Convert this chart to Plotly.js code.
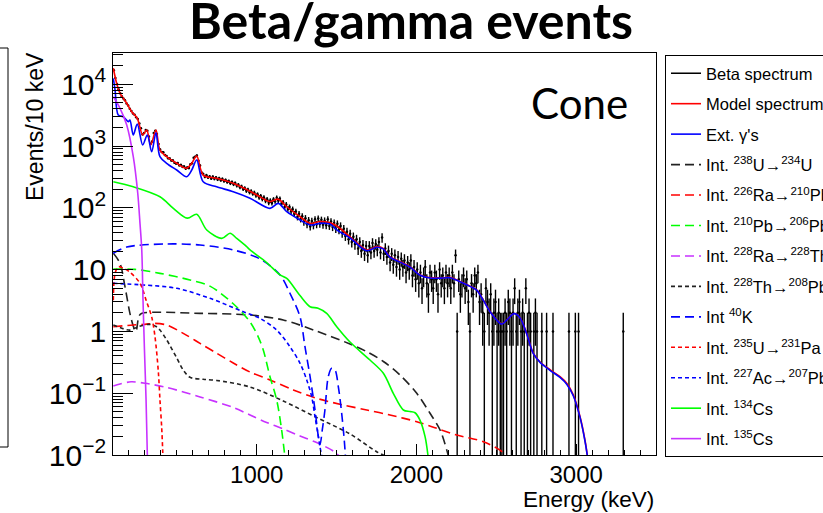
<!DOCTYPE html>
<html>
<head>
<meta charset="utf-8">
<script src="https://cdn.plot.ly/plotly-3.0.1.min.js"></script>
<style>
html,body{margin:0;padding:0;background:#ffffff;}
#chart{width:823px;height:513px;}
</style>
</head>
<body>
<div id="chart"></div>
<script>
// ---------------- data ----------------
const binStart = 100;   // keV, left edge of first bin
const binWidth = 10;    // keV per bin
// Beta spectrum: events per 10 keV bin (null = empty bin)
const betaCounts = [
 16800,12650,10080,8290,7130,6410,5870,5480,4890,4530,
 4010,3700,3360,3210,2920,2740,2310,1930,1540,1630,
 1810,1760,1420,1090,1180,1630,1770,1570,1080,880,
 800,790,718,690,633,628,583,585,538,520,
 529,488,492,460,468,431,450,441,505,528,
 645,672,700,575,482,368,352,318,336,309,
 322,298,317,295,309,288,301,280,293,271,
 281,262,270,249,261,240,251,229,236,215,
 222,201,208,188,197,178,186,169,176,158,
 165,147,155,139,147,130,138,121,131,120,
 137,128,146,131,140,117,123,104,113,96,
 103,88,95,80,87,71,80,66,73,59,
 68,54,63,50,61,52,65,54,67,55,
 64,53,62,52,65,51,60,49,57,46,
 55,44,51,39,46,35,41,31,38,28,
 34,26,31,22,28,20,25,18,24,17,
 24,19,27,20,26,21,28,19,33,18,
 22,16,20,13,18,12,17,11,16,10,
 15,11,14,9,13,10,14,8,11,7,
 10,6,9,5,8,11,6,4,9,7,
 5,9,7,4,10,6,8,5,9,6,
 8,5,9,6,17,1,7,4,6,8,
 5,7,3,1,6,4,8,6,9,3,
 4,2,1,5,3,2,4,1,2,3,
 1,2,1,1,1,2,1,3,2,1,
 2,5,1,2,3,1,2,1,5,1,
 2,1,null,1,2,1,null,null,1,null,
 null,1,null,null,null,1,null,null,null,null,
 null,null,null,null,null,1,null,null,null,1,
 null,1,null,null,null,null,null,null,null,null,
 null,null,null,null,null,null,null,null,null,null,
 null,null,null,null,null,null,null,null,null,1
];

// Model spectrum (red)
const modelE = [102,123,144,186,217,252,286,311,336,369,394,436,499,561,593,624,665,749,853,958,1020,1083,1135,1188,1271,1334,1396,1459,1501,1584,1689,1751,1792,1834,1897,1960,2022,2085,2168,2210,2273,2335,2377,2419,2461,2503,2534,2565,2611,2648,2690,2732,2774,2836,2899,2941,2982,3024,3055,3072];
const modelV = [18100,10300,7130,4910,3590,2810,1510,1815,1040,1815,861,671,525,436,525,689,339,300,249,185,151,126,138,104,72,56,60,57,51,34,20.8,23.5,22,16.2,13.4,11.1,8.2,7.4,7.4,7.5,6.4,5.4,4.7,3.2,2.1,1.53,1.32,1.53,1.95,1.68,0.93,0.44,0.32,0.24,0.185,0.145,0.094,0.042,0.0175,0.009];

// External gammas (blue)
const extE = [102,113,133,164,196,206,227,252,286,315,342,369,394,436,499,561,593,624,665,749,853,958,1083,1135,1188,1271,1334,1396,1459,1501,1584,1689,1751,1792,1834,1897,1960,2022,2085,2168,2210,2273,2335,2377,2419,2461,2503,2534,2565,2611,2648,2690,2732,2774,2836,2899,2941,2982,3024,3055,3072];
const extV = [12400,8050,3170,2980,2470,2640,1510,2270,1040,1510,809,1640,671,525,409,319,409,593,264,219,182,143,98,118,86.5,63.5,52.7,56,54.7,44,32.5,20.2,23,21.6,15.9,13.2,10.95,8.1,7.3,7.3,7.4,6.35,5.35,4.65,3.17,2.08,1.52,1.31,1.52,1.94,1.67,0.92,0.435,0.315,0.235,0.18,0.14,0.091,0.041,0.017,0.009];

// Internal 238U -> 234U
const u238E = [102,144,175,206,231,244,263,282,645,958,1166,1375,1584,1689,1793,1897,2002,2085,2148,2190,2200];
const u238V = [18.4,12.6,5.3,1.96,1.14,1.01,1.77,1.96,1.96,1.84,1.53,1.01,0.625,0.47,0.326,0.197,0.0995,0.0473,0.0254,0.012,0.0096];

// Internal 226Ra -> 210Pb
const ra226E = [102,227,300,360,436,540,645,749,853,958,1083,1229,1375,1542,1689,1834,2002,2127,2252,2419,2523,2565];
const ra226V = [1.19,1.27,1.3,1.35,1.27,0.93,0.64,0.443,0.308,0.22,0.164,0.113,0.0826,0.0644,0.0535,0.0444,0.0346,0.027,0.0211,0.0164,0.012,0.0096];

// Internal 210Pb -> 206Pb
const pb210E = [102,238,394,582,707,853,958,1010,1041,1083,1125,1156,1177];
const pb210V = [10.2,10.1,8.7,6.8,5.4,2.8,1.42,0.81,0.5,0.185,0.0776,0.0254,0.009];

// Internal 228Ra -> 228Th
const ra228E = [102,144,213,300,436,645,853,958,1062,1166,1271,1375,1479,1521];
const ra228V = [0.131,0.141,0.153,0.145,0.124,0.087,0.0588,0.0444,0.0336,0.0264,0.0203,0.0159,0.0116,0.0094];

// Internal 228Th -> 208Pb
const th228E = [102,206,260,330,370,394,436,499,540,582,665,749,958,1166,1375,1584,1751,1814];
const th228V = [1.27,1.05,1.2,1.3,1.2,1.05,0.73,0.372,0.237,0.181,0.168,0.161,0.126,0.0748,0.0404,0.0219,0.0113,0.0094];

// Internal 40K
const k40E = [102,186,436,645,853,1020,1146,1208,1271,1302,1334,1365,1386,1397,1410,1427,1448,1469,1490,1511,1532,1548,1556];
const k40V = [18.4,23.2,26,25,20.8,14.9,8.2,4.14,1.73,0.565,0.185,0.0535,0.0198,0.015,0.025,0.0535,0.185,0.253,0.237,0.127,0.047,0.0175,0.009];

// Internal 235U -> 231Pa
const u235E = [102,113,133,163,206,269,311,342,363,384,394,405,413];
const u235V = [3.2,8.7,11.1,10.6,9.1,6.0,2.99,1.73,0.82,0.22,0.078,0.0274,0.009];

// Internal 227Ac -> 207Pb
const ac227E = [102,290,499,707,916,1020,1125,1208,1271,1313,1344,1365,1386,1396,1409];
const ac227V = [6.0,5.64,4.98,3.43,2.08,1.63,1.05,0.565,0.305,0.164,0.0877,0.0417,0.0198,0.0136,0.009];

// Internal 134Cs
const cs134E = [102,227,394,478,565,624,687,781,833,875,937,958,1062,1146,1188,1271,1334,1384,1438,1501,1584,1709,1793,1855,1918,1960,1991,2022,2054,2074];
const cs134V = [264,219,151,98,68,78.5,43.7,32,38.7,32,23.5,20.8,13,8.2,7.2,3.8,2.51,2.37,1.96,1.19,0.673,0.344,0.21,0.0995,0.0535,0.0506,0.0483,0.0368,0.0198,0.009];

// Internal 135Cs
const cs135E = [102,144,186,227,255,269,280,288,297,307,315];
const cs135V = [6280,4070,2190,671,172,56,21,3.2,0.5,0.078,0.01];

const legendNames = [
  'Beta spectrum','Model spectrum',"Ext. \u03b3's",
  'Int. <sup>238</sup>U\u2192<sup>234</sup>U',
  'Int. <sup>226</sup>Ra\u2192<sup>210</sup>Pb',
  'Int. <sup>210</sup>Pb\u2192<sup>206</sup>Pb',
  'Int. <sup>228</sup>Ra\u2192<sup>228</sup>Th',
  'Int. <sup>228</sup>Th\u2192<sup>208</sup>Pb',
  'Int <sup>40</sup>K',
  'Int. <sup>235</sup>U\u2192<sup>231</sup>Pa',
  'Int. <sup>227</sup>Ac\u2192<sup>207</sup>Pb',
  'Int. <sup>134</sup>Cs',
  'Int. <sup>135</sup>Cs'
];

// ---------------- build ----------------
const betaE = betaCounts.map((_, i) => binStart + binWidth * (i + 0.5));
const betaErr = betaCounts.map(c => (c == null ? null : Math.sqrt(c)));

const LONG = '9px,5px';
const SHORT = '4px,3px';
const LW = 1.6;
const PURPLE = '#c832ff';
const DARK = '#222222';

function curve(x, y, name, grp, color, dash) {
  return {
    type: 'scatter', mode: 'lines', x: x, y: y, name: name,
    legendgroup: grp,
    line: {color: color, width: LW, dash: dash || 'solid', shape: 'spline', smoothing: 0.9},
    hoverinfo: 'skip'
  };
}

const traces = [
  {
    type: 'scatter', mode: 'markers', x: betaE, y: betaCounts,
    name: legendNames[0], legendgroup: 'g0', showlegend: false,
    marker: {color: '#000', size: 2.5},
    error_y: {type: 'data', array: betaErr, visible: true, color: '#000', thickness: 1.4, width: 0},
    hoverinfo: 'skip'
  },
  {
    type: 'scatter', mode: 'lines', x: [null], y: [null],
    name: legendNames[0], legendgroup: 'g0',
    line: {color: '#000', width: 1.5}, hoverinfo: 'skip'
  },
  curve(modelE, modelV, legendNames[1], 'g1', '#ff0000'),
  curve(extE, extV, legendNames[2], 'g2', '#0000ff'),
  curve(u238E, u238V, legendNames[3], 'g3', DARK, LONG),
  curve(ra226E, ra226V, legendNames[4], 'g4', '#ff0000', LONG),
  curve(pb210E, pb210V, legendNames[5], 'g5', '#00ff00', LONG),
  curve(ra228E, ra228V, legendNames[6], 'g6', PURPLE, LONG),
  curve(th228E, th228V, legendNames[7], 'g7', DARK, SHORT),
  curve(k40E, k40V, legendNames[8], 'g8', '#0000ff', LONG),
  curve(u235E, u235V, legendNames[9], 'g9', '#ff0000', SHORT),
  curve(ac227E, ac227V, legendNames[10], 'g10', '#0000ff', SHORT),
  curve(cs134E, cs134V, legendNames[11], 'g11', '#00ff00'),
  curve(cs135E, cs135V, legendNames[12], 'g12', PURPLE)
];

const AXFONT = {family: 'Liberation Sans, Arial, sans-serif', size: 24, color: '#000'};

const layout = {
  width: 823, height: 513,
  margin: {l: 113, r: 167, t: 53, b: 58, autoexpand: false},
  paper_bgcolor: '#ffffff', plot_bgcolor: '#ffffff',
  showlegend: true,
  title: {
    text: 'Beta/gamma events',
    font: {family: 'Lato, sans-serif', size: 50, weight: 700, color: '#000'},
    xref: 'container', x: 411 / 823, xanchor: 'center',
    yref: 'container', y: 1 - 21 / 513, yanchor: 'middle'
  },
  xaxis: {
    type: 'linear', range: [100, 3500],
    tickmode: 'linear', tick0: 0, dtick: 1000,
    ticks: 'inside', ticklen: 11, tickwidth: 1, tickcolor: '#000',
    minor: {tickmode: 'linear', tick0: 0, dtick: 100, ticks: 'inside', ticklen: 5, tickwidth: 1, tickcolor: '#000'},
    showline: true, linecolor: '#000', linewidth: 1, mirror: true,
    showgrid: false, zeroline: false,
    tickfont: AXFONT, ticklabelstandoff: -2
  },
  yaxis: {
    type: 'log', range: [-2, 4.505],
    dtick: 1, exponentformat: 'power',
    ticks: 'inside', ticklen: 20, tickwidth: 1, tickcolor: '#000',
    minor: {dtick: 'D1', ticks: 'inside', ticklen: 10, tickwidth: 1, tickcolor: '#000'},
    showline: true, linecolor: '#000', linewidth: 1, mirror: true,
    showgrid: false, zeroline: false,
    tickfont: AXFONT, ticklabelstandoff: 1
  },
  legend: {
    xref: 'paper', yref: 'paper',
    x: (665 - 113) / 543, xanchor: 'left',
    y: (455 - 55) / 402, yanchor: 'top',
    bgcolor: '#ffffff', bordercolor: '#000', borderwidth: 1,
    font: {family: 'Liberation Sans, Arial, sans-serif', size: 16.5, color: '#000'},
    traceorder: 'grouped', tracegroupgap: 6, itemwidth: 30,
    maxheight: 700
  },
  annotations: [
    {
      text: 'Cone', xref: 'paper', yref: 'paper',
      x: (579 - 113) / 543, y: (455 - 103) / 402,
      xanchor: 'center', yanchor: 'middle', showarrow: false,
      font: {family: 'Lato, sans-serif', size: 42, color: '#000'}
    },
    {
      text: 'Events/10 keV', xref: 'paper', yref: 'paper',
      x: (35 - 113) / 543, y: (455 - 127) / 402,
      xanchor: 'center', yanchor: 'middle', showarrow: false, textangle: -90,
      font: {family: 'Liberation Sans, Arial, sans-serif', size: 23, color: '#000'}
    },
    {
      text: 'Energy (keV)', xref: 'paper', yref: 'paper',
      x: (656 - 113) / 543, y: (455 - 499) / 402,
      xanchor: 'right', yanchor: 'middle', showarrow: false,
      font: {family: 'Liberation Sans, Arial, sans-serif', size: 22.5, color: '#000'}
    }
  ],
  shapes: [
    {
      type: 'rect', xref: 'paper', yref: 'paper',
      x0: (-12 - 113) / 543, x1: (8 - 113) / 543,
      y0: (455 - 447) / 402, y1: (455 - 48) / 402,
      line: {color: '#000', width: 1}, fillcolor: 'rgba(0,0,0,0)'
    }
  ]
};

Plotly.newPlot('chart', traces, layout, {staticPlot: true, displayModeBar: false});
</script>
</body>
</html>
